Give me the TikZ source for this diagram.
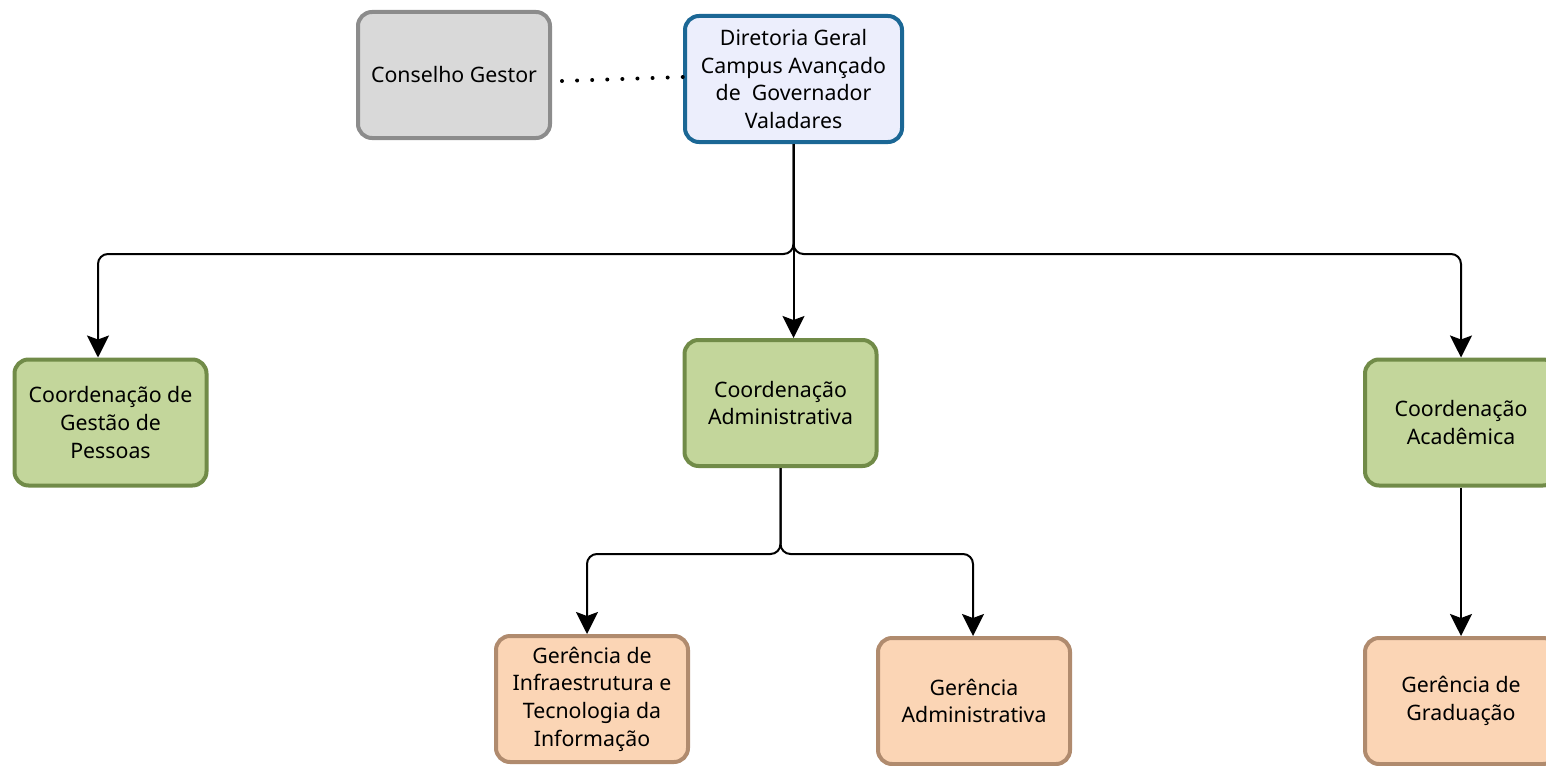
\documentclass[tikz,border=0pt]{standalone}
\usepackage{fontspec}
\setmainfont{Noto Sans}
\usetikzlibrary{arrows.meta,calc}
\begin{document}
\begin{tikzpicture}[x=1pt,y=-1pt,
  box/.style={draw, line width=4pt, rounded corners=14pt, minimum width=192pt, minimum height=126pt, align=center, inner sep=2pt, font=\fontsize{21.3}{27.7}\selectfont},
  conn/.style={line width=2pt, rounded corners=10pt, -{Stealth[length=22pt, width=22pt, inset=4pt]}},
]
\useasboundingbox (0,0) rectangle (1546,765);
\definecolor{cgfill}{HTML}{D9D9D9}
\definecolor{cgdraw}{HTML}{8C8C8C}
\definecolor{dgfill}{HTML}{ECEEFC}
\definecolor{dgdraw}{HTML}{1B6795}
\definecolor{grfill}{HTML}{C3D69B}
\definecolor{grdraw}{HTML}{718B48}
\definecolor{pefill}{HTML}{FBD5B5}
\definecolor{pedraw}{HTML}{B08B6E}
\node[box, fill=cgfill, draw=cgdraw] (cg) at (454,75) {Conselho Gestor};
\node[box, fill=dgfill, draw=dgdraw, minimum width=217pt] (dg) at (793.5,79) {Diretoria Geral\\Campus Avançado\\de~ Governador\\Valadares};
\node[box, fill=grfill, draw=grdraw] (cgp) at (110.5,422.5) {Coordenação de\\Gestão de\\Pessoas};
\node[box, fill=grfill, draw=grdraw] (cad) at (780.5,403) {Coordenação\\Administrativa};
\node[box, fill=grfill, draw=grdraw] (cac) at (1461,422.5) {Coordenação\\Acadêmica};
\node[box, fill=pefill, draw=pedraw] (gi) at (592,699) {Gerência de\\Infraestrutura e\\Tecnologia da\\Informação};
\node[box, fill=pefill, draw=pedraw] (ga) at (974,701) {Gerência\\Administrativa};
\node[box, fill=pefill, draw=pedraw] (gg) at (1461,701) {Gerência de\\Graduação};
\coordinate (j1) at ($(dg.south)+(0,110)$);
\coordinate (j2) at ($(cad.south)+(0,86)$);
\draw[line width=4pt, line cap=round, dash pattern=on 0pt off 15.1pt] ([xshift=10pt,yshift=-6pt]cg.east) -- ([yshift=2pt]dg.west);
\draw[conn] (dg.south) -- (j1) -| ([xshift=-12.5pt]cgp.north);
\draw[conn] (dg.south) -- (dg.south |- cad.north);
\draw[conn] (dg.south) -- (j1) -| (cac.north);
\draw[conn] (cad.south) -- (j2) -| ([xshift=-5pt]gi.north);
\draw[conn] (cad.south) -- (j2) -| ([xshift=-1pt]ga.north);
\draw[conn] (cac.south) -- (gg.north);
\end{tikzpicture}
\end{document}
